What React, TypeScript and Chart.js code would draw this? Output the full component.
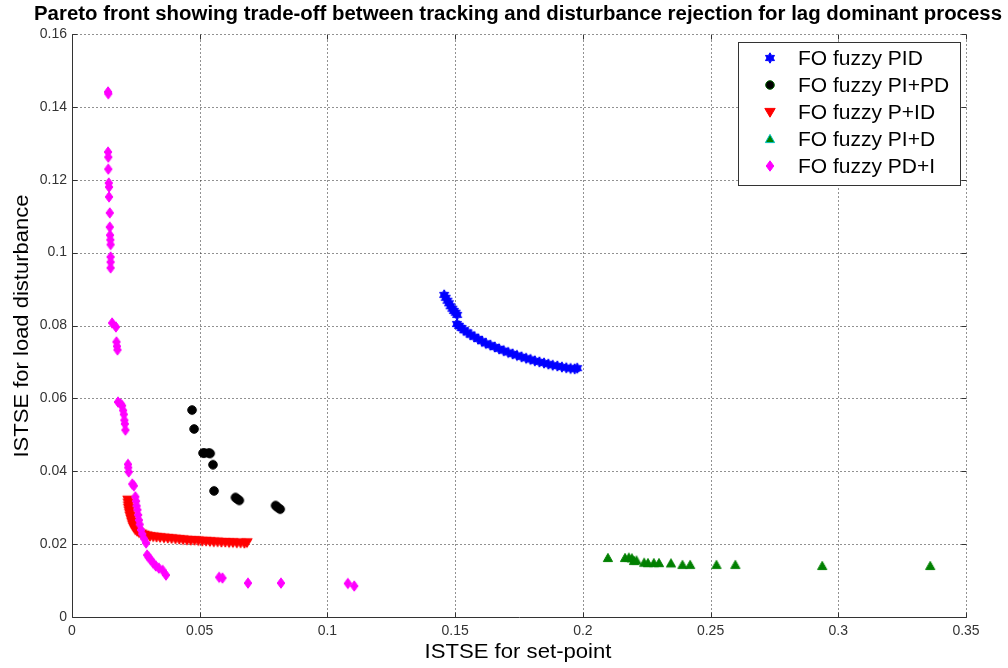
import React, { useEffect, useRef } from "react";
import { Chart, registerables } from "chart.js";
Chart.register(...registerables);

// ---------------- data ----------------
const pidX = [0.1457, 0.1463, 0.147, 0.1476, 0.1482, 0.1489, 0.1495, 0.1502, 0.1508,
  0.1507, 0.1515, 0.1525, 0.1535, 0.1548, 0.156, 0.1575, 0.159, 0.1605, 0.162, 0.1638,
  0.1655, 0.1672, 0.169, 0.1708, 0.1725, 0.1742, 0.176, 0.1778, 0.1795, 0.1812, 0.183,
  0.1848, 0.1865, 0.1882, 0.19, 0.1918, 0.1935, 0.1952, 0.1968, 0.1978];
const pidY = [0.0884, 0.0876, 0.0868, 0.0861, 0.0853, 0.0846, 0.084, 0.0835, 0.0829,
  0.0804, 0.0799, 0.0793, 0.0787, 0.0781, 0.0775, 0.0769, 0.0763, 0.0757, 0.0751, 0.0746,
  0.0741, 0.0736, 0.0731, 0.0726, 0.0722, 0.0718, 0.0714, 0.071, 0.0707, 0.0703, 0.07,
  0.0697, 0.0694, 0.0691, 0.0689, 0.0686, 0.0684, 0.0682, 0.0681, 0.0683];

const piPdX = [0.047, 0.0478, 0.0513, 0.0519, 0.0535, 0.0541, 0.0552, 0.0556, 0.064, 0.0647,
  0.0655, 0.0797, 0.0805, 0.0815];
const piPdY = [0.0568, 0.0516, 0.045, 0.045, 0.045, 0.0449, 0.0418, 0.0346, 0.0328, 0.0324,
  0.032, 0.0306, 0.0301, 0.0296];

const pIdX = [0.0219, 0.022, 0.0221, 0.0222, 0.0224, 0.0226, 0.0228, 0.0231, 0.0234, 0.0238,
  0.0242, 0.0248, 0.0255, 0.0263, 0.0272, 0.0282, 0.0293, 0.0305, 0.0318, 0.0331, 0.0345,
  0.036, 0.0375, 0.039, 0.0405, 0.042, 0.0435, 0.045, 0.0465, 0.048, 0.0495, 0.051, 0.0525,
  0.054, 0.0555, 0.057, 0.0585, 0.06, 0.0615, 0.063, 0.0645, 0.066, 0.0675, 0.0685];
const pIdY = [0.0322, 0.0314, 0.0306, 0.0299, 0.0292, 0.0285, 0.0278, 0.027, 0.0262, 0.0254,
  0.0247, 0.024, 0.0236, 0.0232, 0.0229, 0.0226, 0.0224, 0.0222, 0.0221, 0.022, 0.0219,
  0.0218, 0.0217, 0.0216, 0.0215, 0.0214, 0.0213, 0.0212, 0.0211, 0.0211, 0.021, 0.0209,
  0.0209, 0.0208, 0.0207, 0.0207, 0.0206, 0.0206, 0.0205, 0.0205, 0.0204, 0.0204, 0.0203,
  0.0205];

const piDX = [0.2098, 0.2165, 0.218, 0.2192, 0.22, 0.221, 0.224, 0.2255, 0.2278, 0.2298,
  0.2345, 0.239, 0.242, 0.2523, 0.2597, 0.2937, 0.336];
const piDY = [0.0162, 0.0162, 0.0163, 0.0161, 0.0154, 0.0155, 0.0149, 0.0148, 0.0148, 0.0148,
  0.0147, 0.0143, 0.0143, 0.0143, 0.0143, 0.014, 0.014];

const pdIX = [0.0141, 0.0142, 0.0141, 0.0142, 0.0142, 0.0144, 0.0145, 0.0145, 0.0148, 0.0148,
  0.0149, 0.015, 0.0151, 0.0151, 0.0151, 0.0151, 0.0157, 0.0172, 0.0174, 0.0176, 0.0178,
  0.018, 0.019, 0.0196, 0.02, 0.0203, 0.0205, 0.0207, 0.0209, 0.0219, 0.022, 0.0222, 0.0236,
  0.0242, 0.0248, 0.0251, 0.0253, 0.0256, 0.0259, 0.0262, 0.0265, 0.027, 0.0275, 0.0282,
  0.029, 0.0294, 0.03, 0.0308, 0.0318, 0.0328, 0.034, 0.0355, 0.0368, 0.0576, 0.0589, 0.0689,
  0.0818, 0.108, 0.1105];
const pdIY = [0.1441, 0.1436, 0.1276, 0.1262, 0.1229, 0.1191, 0.118, 0.1153, 0.1109, 0.107,
  0.1048, 0.1035, 0.1022, 0.0988, 0.0974, 0.0958, 0.0807, 0.0796, 0.0755, 0.0743, 0.0733,
  0.059, 0.0585, 0.058, 0.0567, 0.0556, 0.054, 0.053, 0.0513, 0.0419, 0.041, 0.0398, 0.0365,
  0.036, 0.033, 0.0318, 0.0305, 0.0294, 0.028, 0.0266, 0.0254, 0.0239, 0.0228, 0.0215,
  0.0203, 0.017, 0.0164, 0.0157, 0.0148, 0.014, 0.0134, 0.0128, 0.0115, 0.0109, 0.0107,
  0.0093, 0.0093, 0.0092, 0.0085];

const xTickLabels = ["0", "0.05", "0.1", "0.15", "0.2", "0.25", "0.3", "0.35"];
const yTickLabels = ["0", "0.02", "0.04", "0.06", "0.08", "0.1", "0.12", "0.14", "0.16"];
const seriesLabels = ["FO fuzzy PID", "FO fuzzy PI+PD", "FO fuzzy P+ID", "FO fuzzy PI+D", "FO fuzzy PD+I"];
const titleText = "Pareto front showing trade-off between tracking and disturbance rejection for lag dominant process";
const xTitle = "ISTSE for set-point";
const yTitle = "ISTSE for load disturbance";

// ---------------- markers ----------------
type Kind = "hexagram" | "circle" | "triDown" | "triUp" | "diamond";

function drawMarker(ctx: CanvasRenderingContext2D, kind: Kind, cx: number, cy: number, fill: string, edge: string) {
  ctx.save();
  ctx.fillStyle = fill;
  ctx.strokeStyle = edge;
  ctx.lineWidth = 1;
  ctx.beginPath();
  if (kind === "hexagram") {
    const R = 5.2;
    const r = R / Math.sqrt(3);
    for (let i = 0; i < 12; i++) {
      const a = -Math.PI / 2 + (i * Math.PI) / 6;
      const rad = i % 2 === 0 ? R : r;
      const px = cx + rad * Math.cos(a);
      const py = cy + rad * Math.sin(a);
      if (i === 0) ctx.moveTo(px, py);
      else ctx.lineTo(px, py);
    }
  } else if (kind === "circle") {
    ctx.arc(cx, cy, 4.3, 0, Math.PI * 2);
  } else if (kind === "triDown") {
    ctx.moveTo(cx - 5.2, cy - 3.6);
    ctx.lineTo(cx + 5.2, cy - 3.6);
    ctx.lineTo(cx, cy + 5.2);
  } else if (kind === "triUp") {
    ctx.moveTo(cx - 4.6, cy + 3.6);
    ctx.lineTo(cx + 4.6, cy + 3.6);
    ctx.lineTo(cx, cy - 4.6);
  } else {
    ctx.moveTo(cx, cy - 5.2);
    ctx.lineTo(cx + 3.8, cy);
    ctx.lineTo(cx, cy + 5.2);
    ctx.lineTo(cx - 3.8, cy);
  }
  ctx.closePath();
  ctx.fill();
  ctx.stroke();
  ctx.restore();
}

function markerCanvas(kind: Kind, fill: string, edge: string): HTMLCanvasElement {
  const c = document.createElement("canvas");
  c.width = 16;
  c.height = 16;
  const ctx = c.getContext("2d")!;
  drawMarker(ctx, kind, 8, 8, fill, edge);
  return c;
}

const seriesDefs = [
  { label: seriesLabels[0], xs: pidX, ys: pidY, kind: "hexagram" as Kind, fill: "#0000ff", edge: "#0000ff", legendEdge: "#0000ff", order: 4 },
  { label: seriesLabels[1], xs: piPdX, ys: piPdY, kind: "circle" as Kind, fill: "#000000", edge: "#000000", legendEdge: "#006400", order: 3 },
  { label: seriesLabels[2], xs: pIdX, ys: pIdY, kind: "triDown" as Kind, fill: "#ff0000", edge: "#ff0000", legendEdge: "#ff0000", order: 2 },
  { label: seriesLabels[3], xs: piDX, ys: piDY, kind: "triUp" as Kind, fill: "#008000", edge: "#008000", legendEdge: "#00c0c0", order: 1 },
  { label: seriesLabels[4], xs: pdIX, ys: pdIY, kind: "diamond" as Kind, fill: "#ff00ff", edge: "#ff00ff", legendEdge: "#ff00ff", order: 0 },
];

// ---------------- plugins ----------------
function fittedText(ctx: CanvasRenderingContext2D, text: string, font: string, x: number, y: number, targetW: number, rot = 0) {
  ctx.save();
  ctx.font = font;
  const w = ctx.measureText(text).width;
  const sx = targetW / w;
  ctx.translate(x, y);
  if (rot) ctx.rotate(rot);
  ctx.scale(sx, 1);
  ctx.fillStyle = "#000";
  ctx.textAlign = "center";
  ctx.textBaseline = "middle";
  ctx.fillText(text, 0, 0);
  ctx.restore();
}

const gridPlugin = {
  id: "matlabGrid",
  beforeDatasetsDraw(chart: any) {
    const { ctx, chartArea: a, scales } = chart;
    const xs = scales.x;
    const ys = scales.y;
    const L = Math.round(a.left) + 0.5;
    const R = Math.round(a.right) + 0.5;
    const T = Math.round(a.top) + 0.5;
    const B = Math.round(a.bottom) + 0.5;
    ctx.save();
    ctx.fillStyle = "#fff";
    ctx.fillRect(a.left, a.top, a.right - a.left, a.bottom - a.top);
    ctx.strokeStyle = "#222";
    ctx.lineWidth = 1;
    ctx.setLineDash([1, 3]);
    xs.ticks.forEach((t: any) => {
      if (t.value <= 0) return;
      const px = Math.round(xs.getPixelForValue(t.value)) + 0.5;
      ctx.beginPath();
      ctx.moveTo(px, B);
      ctx.lineTo(px, T);
      ctx.stroke();
    });
    ys.ticks.forEach((t: any) => {
      if (t.value <= 0) return;
      const py = Math.round(ys.getPixelForValue(t.value)) + 0.5;
      ctx.beginPath();
      ctx.moveTo(L, py);
      ctx.lineTo(R, py);
      ctx.stroke();
    });
    ctx.setLineDash([]);
    ctx.strokeStyle = "#333";
    ctx.beginPath();
    ctx.moveTo(L, T);
    ctx.lineTo(L, B);
    ctx.lineTo(R, B);
    ctx.stroke();
    const tl = 5;
    xs.ticks.forEach((t: any) => {
      const px = Math.round(xs.getPixelForValue(t.value)) + 0.5;
      ctx.beginPath();
      ctx.moveTo(px, B);
      ctx.lineTo(px, B - tl);
      ctx.moveTo(px, T);
      ctx.lineTo(px, T + tl);
      ctx.stroke();
    });
    ys.ticks.forEach((t: any) => {
      const py = Math.round(ys.getPixelForValue(t.value)) + 0.5;
      ctx.beginPath();
      ctx.moveTo(L, py);
      ctx.lineTo(L + tl, py);
      ctx.moveTo(R, py);
      ctx.lineTo(R - tl, py);
      ctx.stroke();
    });
    ctx.restore();
  },
  afterDraw(chart: any) {
    const { ctx } = chart;
    // title
    fittedText(ctx, titleText, 'bold 20px "Liberation Sans", Arial, sans-serif', 518, 14, 968);
    // axis titles
    fittedText(ctx, xTitle, '21px "Liberation Sans", Arial, sans-serif', 518, 652, 187);
    fittedText(ctx, yTitle, '21px "Liberation Sans", Arial, sans-serif', 22, 326, 263, -Math.PI / 2);
    // legend
    const bx = 738.5, by = 42.5, bw = 222, bh = 143;
    ctx.save();
    ctx.fillStyle = "#fff";
    ctx.fillRect(bx, by, bw, bh);
    ctx.strokeStyle = "#333";
    ctx.lineWidth = 1;
    ctx.strokeRect(bx, by, bw, bh);
    ctx.font = '21px "Liberation Sans", Arial, sans-serif';
    ctx.textAlign = "left";
    ctx.textBaseline = "middle";
    seriesDefs.forEach((s, i) => {
      const yy = 58 + i * 27;
      drawMarker(ctx, s.kind, 770, yy, s.fill, s.legendEdge);
      ctx.fillStyle = "#000";
      ctx.fillText(s.label, 798, yy + 1);
    });
    ctx.restore();
  },
};

// ---------------- component ----------------
export default function App() {
  const ref = useRef<HTMLCanvasElement | null>(null);
  useEffect(() => {
    document.body.style.margin = "0";
    document.body.style.overflow = "hidden";
    const canvas = ref.current;
    if (!canvas) return;
    const tickFont = { family: '"Liberation Sans", Arial, sans-serif', size: 14 };
    const chart = new Chart(canvas, {
      type: "scatter",
      data: {
        datasets: seriesDefs.map((s) => ({
          label: s.label,
          data: s.xs.map((x, i) => ({ x, y: s.ys[i] })),
          pointStyle: markerCanvas(s.kind, s.fill, s.edge) as any,
          pointRadius: 5,
          showLine: false,
          order: s.order,
        })),
      },
      options: {
        animation: false,
        responsive: false,
        devicePixelRatio: 1,
        layout: { padding: { left: 0, right: 42, top: 34, bottom: 0 } },
        plugins: {
          legend: { display: false },
          title: { display: false },
          tooltip: { enabled: false },
        },
        scales: {
          x: {
            type: "linear",
            min: 0,
            max: 0.35,
            grid: { display: false, drawTicks: false },
            border: { display: false },
            ticks: {
              stepSize: 0.05,
              padding: 6,
              color: "#333",
              font: tickFont,
              maxRotation: 0,
              autoSkip: false,
              callback: (_v: any, i: number) => xTickLabels[i] ?? "",
            },
            afterFit: (s: any) => {
              s.height = 51;
            },
          },
          y: {
            type: "linear",
            min: 0,
            max: 0.16,
            grid: { display: false, drawTicks: false },
            border: { display: false },
            ticks: {
              stepSize: 0.02,
              padding: 5,
              color: "#333",
              font: tickFont,
              autoSkip: false,
              callback: (_v: any, i: number) => yTickLabels[i] ?? "",
            },
            afterFit: (s: any) => {
              s.width = 72;
            },
          },
        },
      } as any,
      plugins: [gridPlugin],
    });
    return () => chart.destroy();
  }, []);
  return <canvas ref={ref} width={1008} height={668} style={{ display: "block", width: 1008, height: 668 }} />;
}
